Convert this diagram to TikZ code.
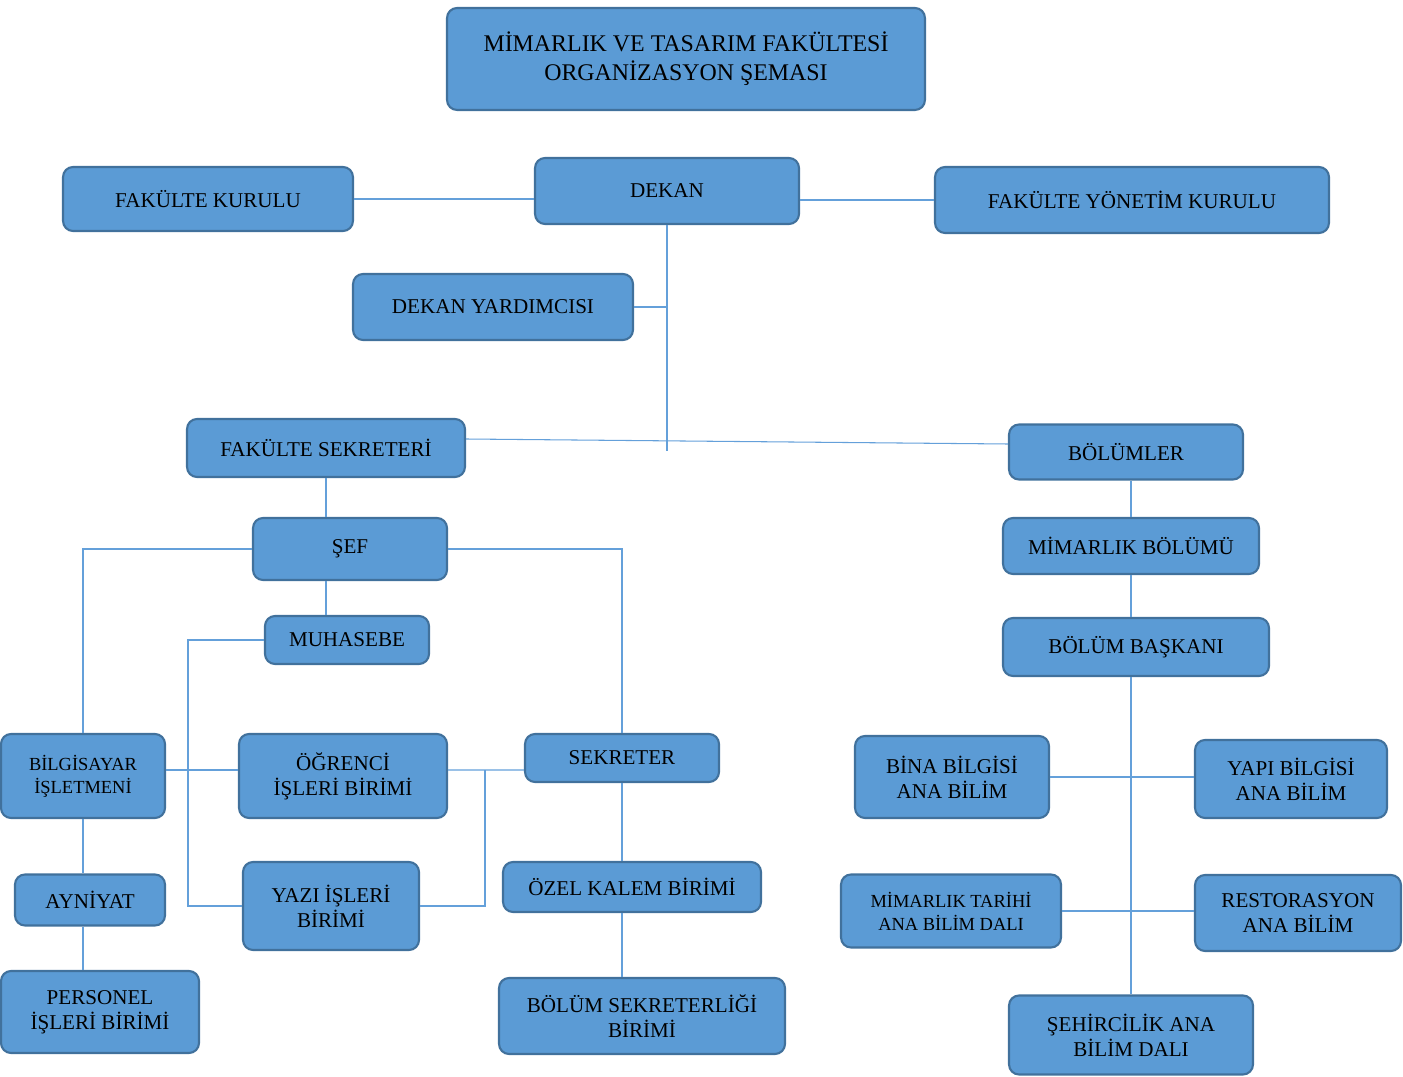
\documentclass[tikz,border=0pt]{standalone}
\usepackage{fontspec}
\setmainfont{Liberation Serif}
\definecolor{boxfill}{RGB}{91,155,213}
\definecolor{boxline}{RGB}{65,113,156}
\definecolor{linkcol}{RGB}{100,160,218}

\begin{document}
\begin{tikzpicture}[x=0.02cm, y=-0.02cm,
		box/.style={rectangle, rounded corners=0.2cm, draw=boxline, fill=boxfill, line width=1.2pt, align=center, inner sep=0pt, font=\fontsize{12}{14.2}\selectfont},
		smallbox/.style={box, font=\fontsize{10.5}{13}\selectfont},
		link/.style={draw=linkcol, line width=0.6pt}]
				\useasboundingbox (0,0) rectangle (1403,1077);
				
				\node[box, minimum width=9.56cm, minimum height=2.04cm, font=\fontsize{13.6}{16.5}\selectfont] (title) at (686,59) {MİMARLIK VE TASARIM FAKÜLTESİ\\ORGANİZASYON ŞEMASI};
				\node[box, minimum width=5.8cm, minimum height=1.28cm] (fk) at (208,199) {FAKÜLTE KURULU};
				\node[box, minimum width=5.28cm, minimum height=1.32cm] (dekan) at (667,191) {DEKAN};
				\node[box, minimum width=7.88cm, minimum height=1.32cm] (fyk) at (1132,200) {FAKÜLTE YÖNETİM KURULU};
				\node[box, minimum width=5.6cm, minimum height=1.32cm] (dy) at (493,307) {DEKAN YARDIMCISI};
				\node[box, minimum width=5.56cm, minimum height=1.16cm] (fs) at (326,448) {FAKÜLTE SEKRETERİ};
				\node[box, minimum width=4.68cm, minimum height=1.1cm] (bolumler) at (1126,452) {BÖLÜMLER};
				\node[box, minimum width=3.88cm, minimum height=1.24cm] (sef) at (350,549) {ŞEF};
				\node[box, minimum width=3.28cm, minimum height=0.96cm] (muh) at (347,640) {MUHASEBE};
				\node[box, minimum width=5.12cm, minimum height=1.12cm] (mb) at (1131,546) {MİMARLIK BÖLÜMÜ};
				\node[box, minimum width=5.32cm, minimum height=1.16cm] (bb) at (1136,647) {BÖLÜM BAŞKANI};
				\node[smallbox, minimum width=3.28cm, minimum height=1.68cm] (bilg) at (83,776) {BİLGİSAYAR\\İŞLETMENİ};
				\node[box, minimum width=4.16cm, minimum height=1.68cm] (ogr) at (343,776) {ÖĞRENCİ\\İŞLERİ BİRİMİ};
				\node[box, minimum width=3.88cm, minimum height=0.96cm] (sekreter) at (622,758) {SEKRETER};
				\node[box, minimum width=3.0cm, minimum height=1.02cm] (ayn) at (90,900) {AYNİYAT};
				\node[box, minimum width=3.52cm, minimum height=1.76cm] (yazi) at (331,906) {YAZI İŞLERİ\\BİRİMİ};
				\node[box, minimum width=5.16cm, minimum height=1.0cm] (ozel) at (632,887) {ÖZEL KALEM BİRİMİ};
				\node[box, minimum width=3.96cm, minimum height=1.64cm] (pers) at (100,1012) {PERSONEL\\İŞLERİ BİRİMİ};
				\node[box, minimum width=5.72cm, minimum height=1.52cm] (bsb) at (642,1016) {BÖLÜM SEKRETERLİĞİ\\BİRİMİ};
				\node[box, minimum width=3.88cm, minimum height=1.64cm] (bina) at (952,777) {BİNA BİLGİSİ\\ANA BİLİM};
				\node[box, minimum width=3.84cm, minimum height=1.56cm] (yapi) at (1291,779) {YAPI BİLGİSİ\\ANA BİLİM};
				\node[smallbox, minimum width=4.4cm, minimum height=1.46cm] (mt) at (951,911) {MİMARLIK TARİHİ\\ANA BİLİM DALI};
				\node[box, minimum width=4.12cm, minimum height=1.52cm] (rest) at (1298,913) {RESTORASYON\\ANA BİLİM};
				\node[box, minimum width=4.88cm, minimum height=1.58cm] (sehir) at (1131,1035) {ŞEHİRCİLİK ANA\\BİLİM DALI};
				
				\coordinate (spine) at (667,451);
				\coordinate (lbus) at (188,640);
				\coordinate (rbus) at (485,770);
				
				\draw[link] (fk.east) -- (dekan.west |- fk.east);
				\draw[link] (dekan.east |- fyk.west) -- (fyk.west);
				\draw[link] (dekan.south) -- (spine);
				\draw[link] (dy.east) -- (dy.east -| dekan.south);
				\draw[link] ([yshift=0.18cm]fs.east) -- ([yshift=0.16cm]bolumler.west);
				\draw[link] (fs.south) -- (fs.south |- sef.north);
				\draw[link] (sef.south -| fs.south) -- (fs.south |- muh.north);
				\draw[link] (sef.west) -| (bilg.north);
				\draw[link] (sef.east) -| (sekreter.north);
				\draw[link] (muh.west) -- (muh.west -| lbus) |- (yazi.west);
				\draw[link] ([yshift=0.12cm]bilg.east) -- ([yshift=0.12cm]ogr.west);
				\draw[link] ([yshift=0.12cm]ogr.east) -- (rbus) -- (rbus -| sekreter.west);
				\draw[link] (rbus) |- (yazi.east);
				\draw[link] (bilg.south) -- (bilg.south |- ayn.north);
				\draw[link] (ayn.south -| bilg.south) -- (bilg.south |- pers.north);
				\draw[link] (sekreter.south) -- (sekreter.south |- ozel.north);
				\draw[link] (ozel.south -| sekreter.south) -- (sekreter.south |- bsb.north);
				\draw[link] (bolumler.south -| mb.north) -- (mb.north);
				\draw[link] (mb.south) -- (bb.north -| mb.south);
				\draw[link] (bb.south -| mb.south) -- (sehir.north);
				\draw[link] (bina.east) -- (bina.east -| yapi.west);
				\draw[link] (mt.east) -- (mt.east -| rest.west);
			\end{tikzpicture}
\end{document}
